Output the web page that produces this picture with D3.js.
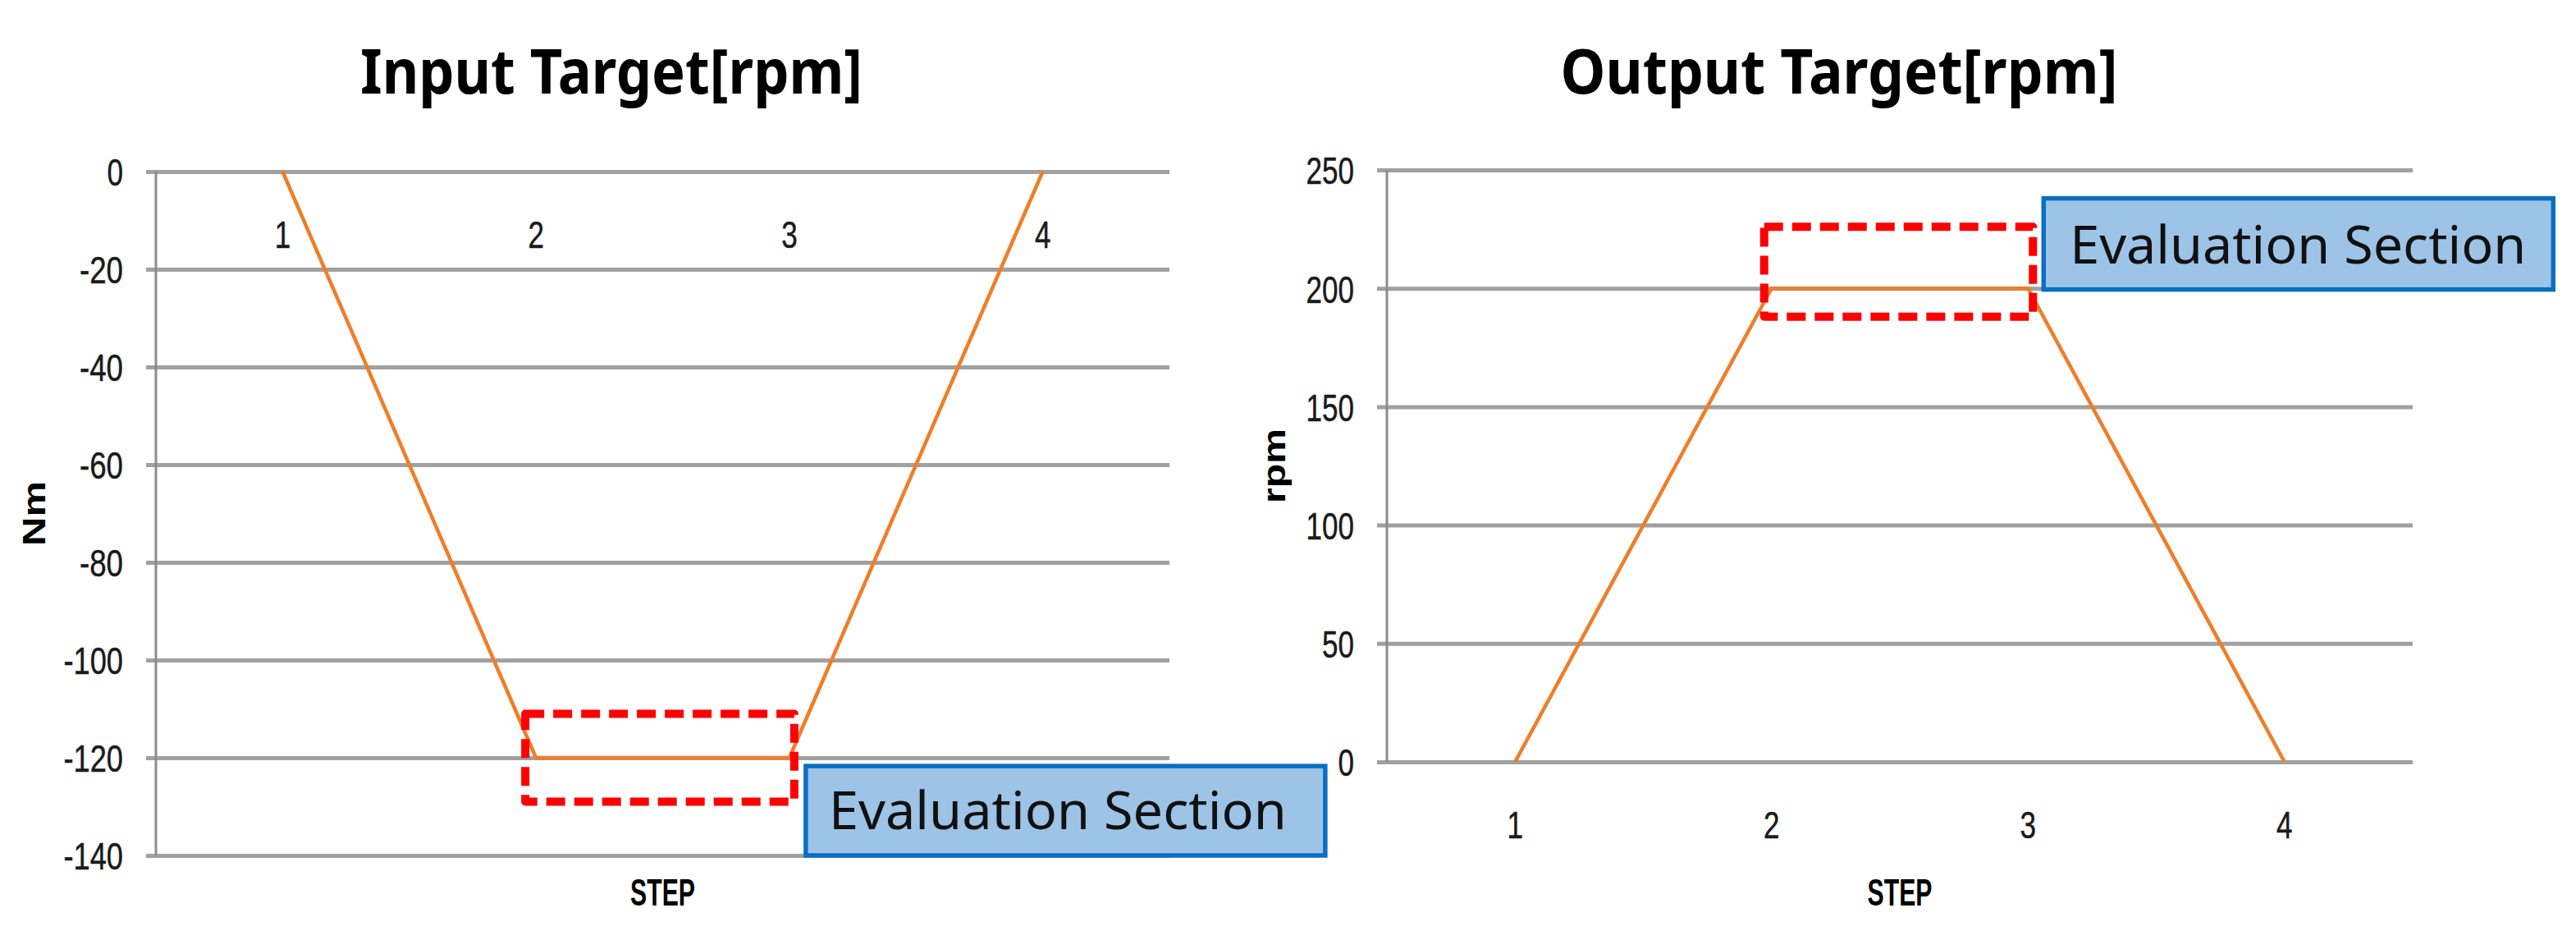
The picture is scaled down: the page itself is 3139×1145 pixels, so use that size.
<!DOCTYPE html>
<html><head><meta charset="utf-8">
<script src="https://cdn.jsdelivr.net/npm/d3@7"></script>
<style>body{margin:0;background:#fff} svg{display:block}</style>
</head><body><svg id="c" width="3139" height="1145"></svg>
<script>
const steps = [1, 2, 3, 4];
const inputTarget = [0, -120, -120, 0];
const outputTarget = [0, 200, 200, 0];
const inputTicks = [0, -20, -40, -60, -80, -100, -120, -140];
const outputTicks = [0, 50, 100, 150, 200, 250];
const inputEvalRange = [-111, -129];
const outputEvalRange = [188, 226];
const evalSteps = [2, 3];
const evalLabel = "Evaluation Section";
const titles = ["Input Target[rpm]", "Output Target[rpm]"];
const yTitles = ["Nm", "rpm"];
const xTitle = "STEP";

const NUM_FONT = '"Liberation Sans",Arial,sans-serif';
const BOLD_FONT = '"Noto Sans","Open Sans",sans-serif';
const ORANGE = "#F07D28", GRID = "#a0a0a0", AXIS = "#8c8c8c";

// condensed look for the numeric labels
const numLen = s => { s = String(s); return (s.match(/\d/g) || []).length * 19.5 + (s.includes("-") ? 14 : 0); };

const svg = d3.select("#c");

const panels = [
  { values: inputTarget, ticks: inputTicks, domain: [-140, 0], x0: 190, x1: 1425, yTop: 209, yBot: 1042,
    title: titles[0], titleX: 745, titleLen: 612, yTitle: yTitles[0], yTitleX: 55, yTitleLen: 79,
    evalRange: inputEvalRange, evalPad: [-13, 6],
    callout: { dx: 20, w: 633, top: -121.7, bot: -140, textDx: 28, textLen: 558, base: -134.7 } },
  { values: outputTarget, ticks: outputTicks, domain: [0, 250], x0: 1690, x1: 2940, yTop: 207, yBot: 928,
    title: titles[1], titleX: 2241, titleLen: 679, yTitle: yTitles[1], yTitleX: 1566, yTitleLen: 91,
    evalRange: outputEvalRange, evalPad: [-9, 6],
    callout: { dx: 19, w: 621, top: 238, bot: 199.5, textDx: 32, textLen: 556, base: 210.5 } }
];

panels.forEach(p => {
  const g = svg.append("g");
  const x = d3.scalePoint().domain(steps).range([p.x0, p.x1]).padding(0.5);
  const y = d3.scaleLinear().domain(p.domain).range([p.yBot, p.yTop]);

  // gridlines + tick labels via d3 axis
  const ax = g.append("g").attr("transform", `translate(${p.x0},0)`)
    .call(d3.axisLeft(y).tickValues(p.ticks).tickFormat(d => String(d))
      .tickSize(-(p.x1 - p.x0)).tickSizeOuter(0).tickPadding(0));
  ax.select(".domain").remove();
  ax.selectAll(".tick line").attr("x1", -12).attr("stroke", GRID).attr("stroke-width", 5);
  ax.selectAll(".tick text").attr("x", -40).attr("dy", "0.36em")
    .attr("font-family", NUM_FONT).attr("font-size", 47).attr("fill", "#1a1a1a")
    .attr("stroke", "#1a1a1a").attr("stroke-width", 0.5)
    .attr("textLength", d => numLen(d)).attr("lengthAdjust", "spacingAndGlyphs");

  // vertical axis line
  g.append("line").attr("x1", p.x0).attr("x2", p.x0).attr("y1", p.yTop).attr("y2", p.yBot)
    .attr("stroke", AXIS).attr("stroke-width", 3);

  // category labels
  const baseY = y(0);
  g.selectAll(".cat").data(steps).join("text")
    .attr("x", d => x(d)).attr("y", baseY + 76).attr("dy", "0.36em")
    .attr("text-anchor", "middle").attr("font-family", NUM_FONT).attr("font-size", 47)
    .attr("stroke", "#1a1a1a").attr("stroke-width", 0.5)
    .attr("textLength", d => numLen(d)).attr("lengthAdjust", "spacingAndGlyphs")
    .attr("fill", "#1a1a1a").text(d => d);

  // line
  const line = d3.line().x((d, i) => x(steps[i])).y(d => y(d));
  g.append("path").datum(p.values).attr("d", line).attr("fill", "none")
    .attr("stroke", ORANGE).attr("stroke-width", 4.5).attr("stroke-linejoin", "round");

  // red dashed evaluation box
  const ex0 = x(evalSteps[0]) + p.evalPad[0], ex1 = x(evalSteps[1]) + p.evalPad[1];
  const ey0 = y(d3.max(p.evalRange)), ey1 = y(d3.min(p.evalRange));
  g.append("rect").attr("x", ex0).attr("y", ey0).attr("width", ex1 - ex0).attr("height", ey1 - ey0)
    .attr("fill", "none").attr("stroke", "#FF0000").attr("stroke-width", 10)
    .attr("stroke-dasharray", "23 11").attr("stroke-linejoin", "round");

  // callout
  const c = p.callout;
  const cx0 = x(evalSteps[1]) + c.dx;
  g.append("rect").attr("x", cx0).attr("y", y(c.top)).attr("width", c.w).attr("height", y(c.bot) - y(c.top))
    .attr("fill", "#9DC3E6").attr("stroke", "#0A6FC2").attr("stroke-width", 5.5);
  g.append("text").attr("x", cx0 + c.textDx).attr("y", y(c.base))
    .attr("font-family", '"Noto Sans","Open Sans",sans-serif').attr("font-size", 64)
    .attr("textLength", c.textLen).attr("lengthAdjust", "spacingAndGlyphs")
    .attr("fill", "#111").text(evalLabel);

  // titles
  g.append("text").attr("x", p.titleX).attr("y", 114).attr("text-anchor", "middle")
    .attr("font-family", BOLD_FONT).attr("font-weight", "bold").attr("font-size", 76)
    .attr("textLength", p.titleLen).attr("lengthAdjust", "spacingAndGlyphs")
    .attr("fill", "#000").text(p.title);

  // y title
  const ym = (p.yTop + p.yBot) / 2;
  g.append("text").attr("transform", `translate(${p.yTitleX},${ym}) rotate(-90)`)
    .attr("text-anchor", "middle")
    .attr("font-family", '"Liberation Sans",Arial,sans-serif').attr("font-weight", "bold").attr("font-size", 38)
    .attr("textLength", p.yTitleLen).attr("lengthAdjust", "spacingAndGlyphs")
    .attr("fill", "#000").text(p.yTitle);

  // x title
  g.append("text").attr("x", (p.x0 + p.x1) / 2).attr("y", 1103).attr("text-anchor", "middle")
    .attr("font-family", NUM_FONT).attr("font-weight", "bold").attr("font-size", 46)
    .attr("textLength", 79).attr("lengthAdjust", "spacingAndGlyphs")
    .attr("fill", "#000").text(xTitle);
});
</script>
</body></html>
